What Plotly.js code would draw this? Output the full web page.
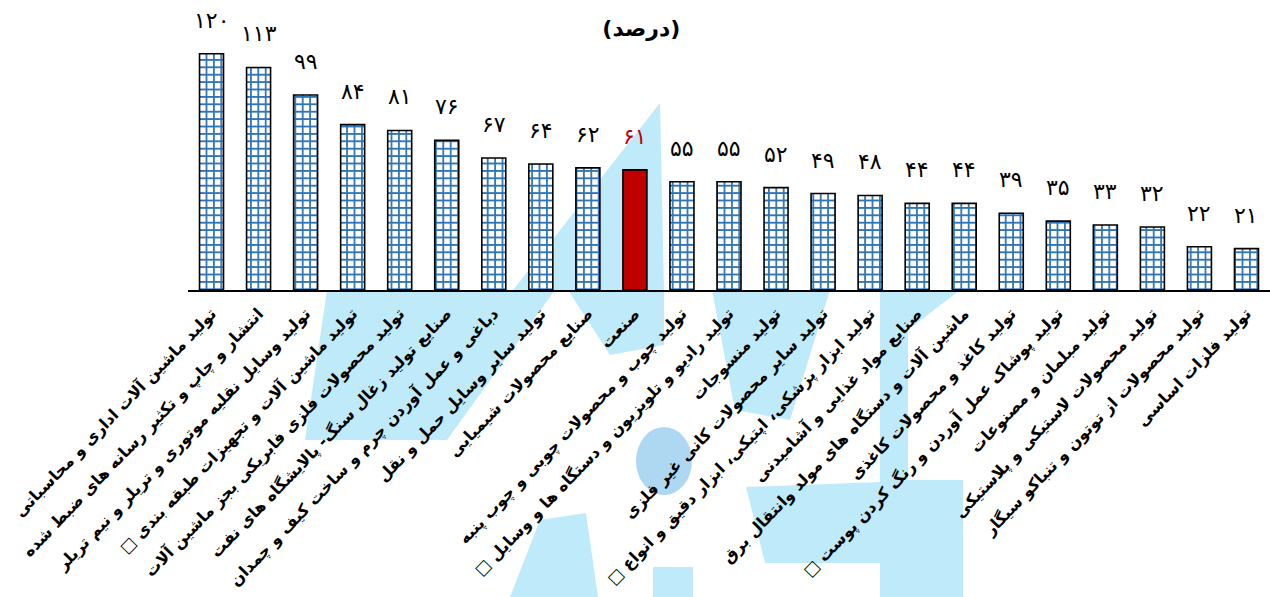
<!DOCTYPE html>
<html>
<head>
<meta charset="utf-8">
<script src="https://cdn.plot.ly/plotly-3.0.1.min.js"></script>
<style>html,body{margin:0;padding:0;background:#fff;}#chart{width:1270px;height:597px;}</style>
</head>
<body>
<div id="chart"></div>
<script>
var categories = [
  "تولید ماشین آلات اداری و محاسباتی",
  "انتشار و چاپ و تکثیر رسانه های ضبط شده",
  "تولید وسایل نقلیه موتوری و تریلر و نیم تریلر",
  "تولید ماشین آلات و تجهیزات طبقه بندی □",
  "تولید محصولات فلزی فابریکی بجز ماشین آلات",
  "صنایع تولید زغال سنگ- پالایشگاه های نفت",
  "دباغی و عمل آوردن چرم و ساخت کیف و چمدان",
  "تولید سایر وسایل حمل و نقل",
  "صنایع محصولات شیمیایی",
  "صنعت",
  "تولید چوب و محصولات چوبی و چوب پنبه",
  "تولید رادیو و تلویزیون و دستگاه ها و وسایل □",
  "تولید منسوجات",
  "تولید سایر محصولات کانی غیر فلزی",
  "تولید ابزار پزشکی، اپتیکی، ابزار دقیق و انواع □",
  "صنایع مواد غذایی و آشامیدنی",
  "ماشین آلات و دستگاه های مولد وانتقال برق",
  "تولید کاغذ و محصولات کاغذی",
  "تولید پوشاک عمل آوردن و رنگ کردن پوست □",
  "تولید مبلمان و مصنوعات",
  "تولید محصولات لاستیکی و پلاستیکی",
  "تولید محصولات از توتون و تنباکو سیگار",
  "تولید فلزات اساسی"
];
var values = [120, 113, 99, 84, 81, 76, 67, 64, 62, 61, 55, 55, 52, 49, 48, 44, 44, 39, 35, 33, 32, 22, 21];
var highlight = "صنعت";
var chartTitle = "(درصد)";

var faDigits = "۰۱۲۳۴۵۶۷۸۹";
function toFa(n){ return String(n).replace(/[0-9]/g, function(d){ return faDigits[+d]; }); }

var RLM = "\u200F";
var xs = categories.map(function(c, i){ return i; });
var isHi = categories.map(function(c){ return c === highlight; });

var patternTrace = {
  type: "bar",
  x: xs,
  y: values.map(function(v, i){ return isHi[i] ? null : v; }),
  width: 0.51,
  marker: {
    color: "#2E75B6",
    line: {color: "#000000", width: 1.6},
    pattern: {shape: "+", fgcolor: "#2E75B6", bgcolor: "#ffffff", size: 7.4, solidity: 0.42, fillmode: "replace"}
  },
  hoverinfo: "skip"
};
var hiTrace = {
  type: "bar",
  x: xs,
  y: values.map(function(v, i){ return isHi[i] ? v : null; }),
  width: 0.51,
  marker: {color: "#C00000", line: {color: "#000000", width: 1.6}},
  hoverinfo: "skip"
};

var annotations = values.map(function(v, i){
  return {
    x: xs[i], y: v, xref: "x", yref: "y",
    text: toFa(v), showarrow: false,
    yanchor: "bottom", yshift: 19,
    font: {family: "DejaVu Sans", size: 22, color: isHi[i] ? "#C00000" : "#000000"}
  };
});

// watermark (background logo) approximations, pixel coords -> paper coords
var L = 188, T = 34, PW = 1082, PH = 256;
function px(x){ return (x - L) / PW; }
function py(y){ return (T + PH - y) / PH; }
function poly(pts){
  return "M" + pts.map(function(p){ return px(p[0]).toFixed(4) + "," + py(p[1]).toFixed(4); }).join("L") + "Z";
}
var wm = "rgba(165,226,248,0.72)";
var wmPolys = [
  [[513,290],[660,103],[664,290]],
  [[327,290],[555,290],[447,440],[305,440]],
  [[568,290],[664,290],[664,345],[610,355]],
  [[510,597],[540,520],[586,513],[598,597]],
  [[653,567],[693,567],[693,597],[653,597]],
  [[712,290],[830,290],[790,420],[735,410]],
  [[746,487],[880,482],[880,563],[765,563]],
  [[880,290],[960,290],[908,330],[908,480],[963,480],[963,597],[880,597]]
];
var shapes = wmPolys.map(function(p){
  return {type: "path", xref: "paper", yref: "paper", path: poly(p), fillcolor: wm, line: {width: 0}, layer: "below"};
});
shapes.push({type: "circle", xref: "paper", yref: "paper", x0: px(636), x1: px(692), y0: py(495), y1: py(427),
  fillcolor: "rgba(140,200,235,0.7)", line: {width: 0}, layer: "below"});

var layout = {
  width: 1270, height: 597,
  margin: {l: L, r: 1270 - L - PW, t: T, b: 597 - T - PH, pad: 0},
  paper_bgcolor: "#ffffff",
  plot_bgcolor: "rgba(0,0,0,0)",
  showlegend: false,
  barmode: "overlay",
  title: {text: "<b>" + chartTitle + "</b>", x: 0.505, xanchor: "center", y: 0.953, yanchor: "middle",
    font: {family: "DejaVu Sans", size: 22, color: "#000000"}},
  xaxis: {
    range: [-0.5, categories.length - 0.5],
    tickmode: "array", tickvals: xs, ticktext: categories.map(function(c){ return c + RLM; }),
    tickangle: -46,
    ticklabeloverflow: "allow",
    ticklabelstandoff: 6,
    tickfont: {family: "DejaVu Sans", size: 16, color: "#000000", weight: "bold"},
    showline: true, linecolor: "#000000", linewidth: 2,
    ticks: "", showgrid: false, zeroline: false, fixedrange: true
  },
  yaxis: {range: [0, 130], visible: false, showgrid: false, zeroline: false, fixedrange: true},
  annotations: annotations,
  shapes: shapes
};

Plotly.newPlot("chart", [patternTrace, hiTrace], layout, {displayModeBar: false, staticPlot: true});
</script>
</body>
</html>
